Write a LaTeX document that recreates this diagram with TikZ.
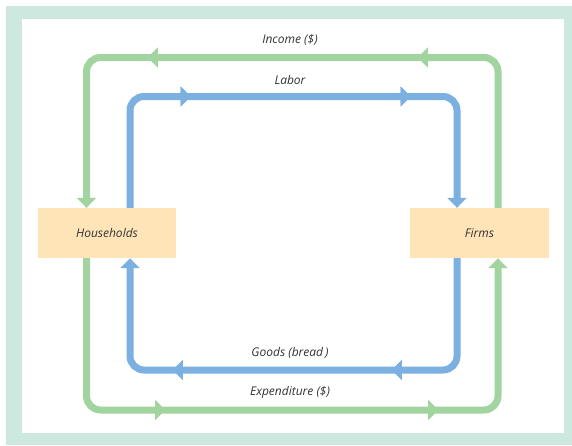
\documentclass[tikz,border=0pt]{standalone}
\usepackage{fontspec}
\setmainfont{Open Sans}
\usetikzlibrary{arrows.meta, decorations.markings}
\definecolor{framegreen}{HTML}{CDE8DE}
\definecolor{moneygreen}{HTML}{A2D49F}
\definecolor{realblue}{HTML}{7BB0E0}
\definecolor{sectorfill}{HTML}{FFE4B8}
\definecolor{labelgray}{HTML}{333333}
\tikzstyle{sector} = [rectangle, fill=sectorfill, minimum width=138pt,
   minimum height=50pt, text centered, font=\fontsize{12}{14}\selectfont\itshape,
   text=labelgray, inner sep=0pt]
\tikzstyle{flow} = [line width=7pt, rounded corners=14pt,
   -{Triangle[length=10pt, width=19pt]}]
\tikzstyle{tips} = [postaction={decorate}, decoration={markings,
   mark=at position #1 with {\arrow{Triangle[length=10pt, width=19pt]}}}]
\tikzstyle{money} = [flow, draw=moneygreen]
\tikzstyle{real} = [flow, draw=realblue]
\tikzstyle{flowlabel} = [font=\fontsize{12}{14}\selectfont\itshape, text=labelgray]

\begin{document}
\begin{tikzpicture}[x=1pt, y=-1pt]
\useasboundingbox (0,0) rectangle (572,445);
% Frame
\fill [framegreen] (6,6) rectangle (572,445);
\fill [white] (22,19) rectangle (564,433);
% Place nodes
\node [sector] (hh) at (107,233) {Households};
\node [sector, minimum width=139pt] (firms) at (479.5,233) {Firms};
% Corners of the two loops
\coordinate (incL) at (86.5,57.5);
\coordinate (incR) at (498,57.5);
\coordinate (expL) at (86.5,410);
\coordinate (expR) at (498,410);
\coordinate (labL) at (130,96.5);
\coordinate (labR) at (457,96.5);
\coordinate (gdsL) at (130,370);
\coordinate (gdsR) at (457,370);
% Labels
\node [flowlabel] (income) at (290,40) {Income (\$)};
\node [flowlabel] (labor) at (290,80) {Labor};
\node [flowlabel] (goods) at (290,353) {Goods (bread\,)};
\node [flowlabel] (expend) at (290,392) {Expenditure (\$)};
% Draw edges
\path [money, tips=224.5pt, tips=494.5pt]
   (firms.north -| incR) -- (incR) -- (incL) -- (hh.north -| incL);
\path [money, tips=224.5pt, tips=497.5pt]
   (hh.south -| expL) -- (expL) -- (expR) -- (firms.south -| expR);
\path [real, tips=166pt, tips=386pt]
   (hh.north -| labL) -- (labL) -- (labR) -- (firms.north -| labR);
\path [real, tips=171pt, tips=390pt]
   (firms.south -| gdsR) -- (gdsR) -- (gdsL) -- (hh.south -| gdsL);
\end{tikzpicture}
\end{document}
